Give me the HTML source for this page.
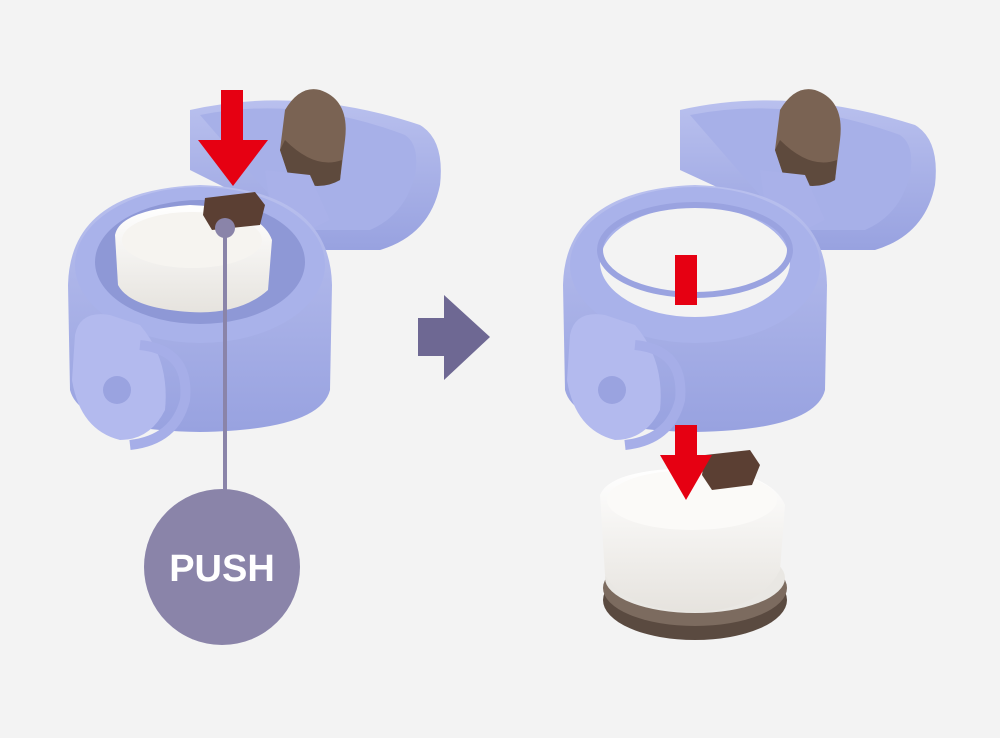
<!DOCTYPE html>
<html><head><meta charset="utf-8"><style>
html,body{margin:0;padding:0;background:#f3f3f3;}
svg{display:block}
</style></head><body>
<svg width="1000" height="738" viewBox="0 0 1000 738" xmlns="http://www.w3.org/2000/svg">
<rect width="1000" height="738" fill="#f3f3f3"/>
<defs>
<linearGradient id="lav" x1="0" y1="0" x2="0" y2="1"><stop offset="0" stop-color="#b9c0ee"/><stop offset="1" stop-color="#98a2e0"/></linearGradient>
<linearGradient id="wh" x1="0" y1="0" x2="0" y2="1"><stop offset="0" stop-color="#ffffff"/><stop offset="1" stop-color="#e6e3de"/></linearGradient>
</defs>

<!-- LEFT OBJECT -->
<g>
<!-- cap behind -->
<path d="M190 110 Q300 85 420 125 Q445 140 440 185 Q430 235 380 250 L300 250 L250 200 L190 170 Z" fill="url(#lav)"/>
<path d="M200 115 Q300 95 405 135 Q420 145 415 175 Q405 215 370 230 L300 230 Z" fill="#a7b0e8"/>
<path d="M285 110 Q300 85 320 90 Q350 100 345 140 L340 180 Q320 190 290 180 L280 150 Z" fill="#7a6353"/>
<path d="M280 150 L290 180 Q320 192 340 180 L342 160 Q315 170 285 140 Z" fill="#5e4a3d"/>
<!-- hinge -->
<path d="M265 170 L310 175 L330 220 L300 235 L270 205 Z" fill="#a9b1e9"/>
<!-- main body -->
<path d="M68 285 Q70 190 200 185 Q330 190 332 285 L330 390 Q320 430 200 432 Q80 430 70 390 Z" fill="url(#lav)"/>
<ellipse cx="200" cy="265" rx="125" ry="78" fill="#a9b2ea"/>
<ellipse cx="200" cy="262" rx="105" ry="62" fill="#8e98d6"/>
<!-- white inner -->
<path d="M115 235 Q120 210 190 205 Q260 208 272 240 L268 290 Q240 315 190 312 Q130 308 118 285 Z" fill="url(#wh)"/>
<ellipse cx="192" cy="240" rx="70" ry="28" fill="#f6f4f0"/>
<!-- brown block -->
<path d="M205 198 L255 192 L265 205 L260 225 L212 230 L203 215 Z" fill="#5b3f33"/>
<!-- handle -->
<path d="M75 335 Q80 310 110 315 L140 325 Q170 360 165 410 Q150 440 120 440 Q80 430 72 380 Z" fill="#b3baee"/>
<circle cx="117" cy="390" r="14" fill="#9aa3e0"/>
<path d="M140 345 Q190 350 185 400 Q175 440 130 445" stroke="#a6aee8" stroke-width="10" fill="none"/>
<!-- red arrow -->
<rect x="221" y="90" width="22" height="55" fill="#e60012"/>
<polygon points="198,140 268,140 233,186" fill="#e60012"/>
<!-- callout -->
<line x1="225" y1="228" x2="225" y2="500" stroke="#8a84a9" stroke-width="4"/>
<circle cx="225" cy="228" r="10" fill="#8a84a9"/>
<circle cx="222" cy="567" r="78" fill="#8a84a9"/>
<text x="222" y="581" text-anchor="middle" font-family="Liberation Sans, sans-serif" font-weight="bold" font-size="38" fill="#fff">PUSH</text>
</g>

<!-- MIDDLE ARROW -->
<rect x="418" y="318" width="32" height="38" fill="#6e6893"/>
<polygon points="444,295 444,380 490,337" fill="#6e6893"/>

<!-- RIGHT OBJECT -->
<g>
<path d="M680 110 Q790 85 915 125 Q940 140 935 185 Q925 235 875 250 L790 250 L745 200 L680 170 Z" fill="url(#lav)"/>
<path d="M690 115 Q790 95 900 135 Q915 145 910 175 Q900 215 865 230 L790 230 Z" fill="#a7b0e8"/>
<path d="M780 110 Q795 85 815 90 Q845 100 840 140 L835 180 Q815 190 785 180 L775 150 Z" fill="#7a6353"/>
<path d="M775 150 L785 180 Q815 192 835 180 L837 160 Q810 170 780 140 Z" fill="#5e4a3d"/>
<path d="M760 170 L805 175 L825 220 L795 235 L765 205 Z" fill="#a9b1e9"/>
<path d="M563 285 Q565 190 695 185 Q825 190 827 285 L825 390 Q815 430 695 432 Q575 430 565 390 Z" fill="url(#lav)"/>
<ellipse cx="695" cy="265" rx="125" ry="78" fill="#a9b2ea"/>
<ellipse cx="695" cy="262" rx="95" ry="55" fill="#f3f3f3"/>
<ellipse cx="695" cy="250" rx="95" ry="45" fill="none" stroke="#9aa3e0" stroke-width="6"/>
<path d="M570 335 Q575 310 605 315 L635 325 Q665 360 660 410 Q645 440 615 440 Q575 430 567 380 Z" fill="#b3baee"/>
<circle cx="612" cy="390" r="14" fill="#9aa3e0"/>
<path d="M635 345 Q685 350 680 400 Q670 440 625 445" stroke="#a6aee8" stroke-width="10" fill="none"/>
<!-- bottom part -->
<ellipse cx="695" cy="600" rx="92" ry="40" fill="#5a4a40"/>
<ellipse cx="695" cy="588" rx="92" ry="38" fill="#7c6b5f"/>
<ellipse cx="695" cy="578" rx="90" ry="35" fill="#e9e7e3"/>
<path d="M600 495 Q610 470 690 468 Q770 470 785 505 L780 570 Q760 610 695 612 Q625 610 605 575 Z" fill="url(#wh)"/>
<ellipse cx="692" cy="500" rx="85" ry="30" fill="#fbfaf8"/>
<path d="M705 455 L750 450 L760 465 L752 485 L712 490 L702 475 Z" fill="#5b3f33"/>
<!-- red arrow -->
<rect x="675" y="255" width="22" height="50" fill="#e60012"/>
<rect x="675" y="425" width="22" height="35" fill="#e60012"/>
<polygon points="660,455 712,455 686,500" fill="#e60012"/>
</g>
</svg>
</body></html>
